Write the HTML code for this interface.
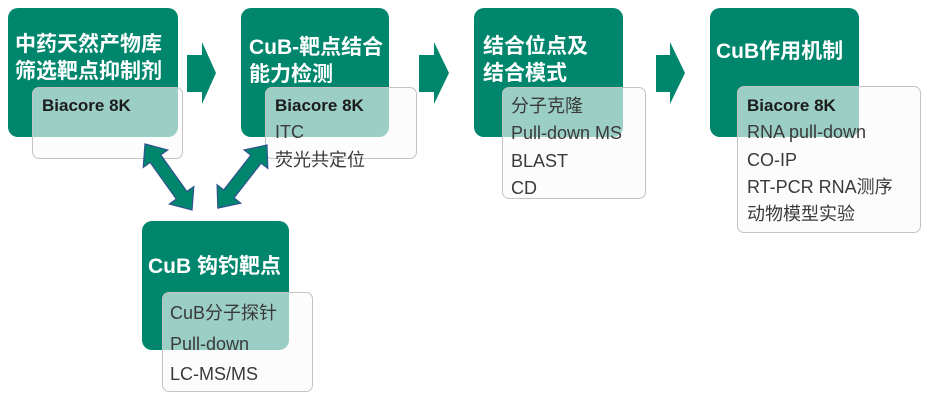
<!DOCTYPE html>
<html><head><meta charset="utf-8">
<style>
html,body{margin:0;padding:0;background:#fff;}
body{width:927px;height:401px;position:relative;overflow:hidden;font-family:"Liberation Sans","Noto Sans CJK SC",sans-serif;}
.g{position:absolute;background:#00866C;border-radius:10px;}
.w{position:absolute;background:rgba(250,250,250,0.62);border:1px solid #C4C4C4;border-radius:7px;box-sizing:border-box;}
.t{position:absolute;color:#fff;font-weight:bold;font-size:21px;line-height:27px;white-space:nowrap;}
.i{position:absolute;color:#3a3a3a;font-size:18px;line-height:27.3px;white-space:nowrap;}
.i b{color:#1c1c1c;font-size:17px;}
svg{position:absolute;left:0;top:0;}
</style></head><body>

<div class="g" style="left:8px;top:8px;width:170px;height:129px;"></div>
<div class="g" style="left:241px;top:8px;width:148px;height:129px;"></div>
<div class="g" style="left:474px;top:8px;width:149px;height:129px;"></div>
<div class="g" style="left:710px;top:8px;width:149px;height:129px;"></div>
<div class="g" style="left:142px;top:221px;width:147px;height:129px;"></div>

<div class="t" style="left:15px;top:31px;">中药天然产物库<br>筛选靶点抑制剂</div>
<div class="t" style="left:249px;top:34px;">CuB-靶点结合<br>能力检测</div>
<div class="t" style="left:483px;top:33px;">结合位点及<br>结合模式</div>
<div class="t" style="left:716px;top:38px;">CuB作用机制</div>
<div class="t" style="left:148px;top:253px;">CuB 钩钓靶点</div>

<div class="w" style="left:32px;top:87px;width:151px;height:72px;"></div>
<div class="w" style="left:265px;top:87px;width:152px;height:72px;"></div>
<div class="w" style="left:502px;top:87px;width:144px;height:112px;"></div>
<div class="w" style="left:737px;top:86px;width:184px;height:147px;"></div>
<div class="w" style="left:162px;top:292px;width:151px;height:100px;"></div>

<div class="i" style="left:42px;top:92px;"><b>Biacore 8K</b></div>
<div class="i" style="left:275px;top:92px;"><b>Biacore 8K</b><br>ITC<br>荧光共定位</div>
<div class="i" style="left:511px;top:93px;">分子克隆<br>Pull-down MS<br>BLAST<br>CD</div>
<div class="i" style="left:747px;top:92px;"><b>Biacore 8K</b><br>RNA pull-down<br>CO-IP<br>RT-PCR RNA测序<br>动物模型实验</div>
<div class="i" style="left:170px;top:298px;line-height:30.5px;">CuB分子探针<br>Pull-down<br>LC-MS/MS</div>

<svg width="927" height="401">
<g fill="#00866C">
<polygon points="187,55 202,55 202,42 216,73 202,104 202,92 187,92"/>
<polygon points="419,55 434,55 434,42 449,73 434,104 434,92 419,92"/>
<polygon points="656,55 670,55 670,42 685,73 670,104 670,92 656,92"/>
</g>
<g fill="#00866C" stroke="#2F528F" stroke-width="1.2" stroke-linejoin="miter">
<polygon transform="translate(145,144) rotate(54.5)" points="0,0 18,-15 18,-6.5 63,-6.5 63,-15 81,0 63,15 63,6.5 18,6.5 18,15"/>
<polygon transform="translate(267,145) rotate(127.9)" points="0,0 18,-15 18,-6.5 62,-6.5 62,-15 80,0 62,15 62,6.5 18,6.5 18,15"/>
</g>
</svg>
</body></html>
